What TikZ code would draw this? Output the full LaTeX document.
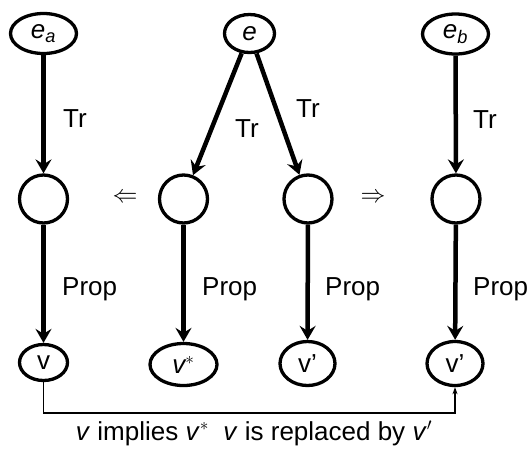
\documentclass[tikz,border=0pt]{standalone}
\usepackage{fontspec}
\setmainfont{Liberation Sans}
\usetikzlibrary{arrows.meta,shapes.geometric}
\begin{document}
\begin{tikzpicture}[x=1pt,y=-1pt,
  every node/.style={font=\fontsize{26}{31}\selectfont},
  ell/.style={draw,ellipse,line width=3.3pt,inner sep=0pt},
  circ/.style={draw,circle,line width=3.3pt,inner sep=0pt,minimum size=48pt},
  flow/.style={line width=4.5pt,-{Stealth[length=14pt,width=16pt,inset=5pt]}},
  lbl/.style={anchor=base west,inner sep=0pt},
  link/.style={line width=1.3pt,-{Stealth[length=7pt,width=5pt,inset=2pt]}}
]
\useasboundingbox (0,0) rectangle (527,453);
% top row
\node[ell,minimum width=66pt,minimum height=40pt] (ea) at (43.5,33.5) {\itshape e\textsubscript{a}};
\node[ell,minimum width=50pt,minimum height=38pt] (e) at (249.5,33.5) {\itshape e};
\node[ell,minimum width=66pt,minimum height=40pt] (eb) at (455.5,34) {\itshape e\textsubscript{b}};
% middle row
\node[circ] (c1) at (43.5,199) {};
\node[circ] (c2) at (183.5,199) {};
\node[circ] (c3) at (308,199) {};
\node[circ] (c4) at (456,199) {};
% bottom row
\node[ell,minimum width=48pt,minimum height=36pt] (v) at (43.5,362.5) {v};
\node[ell,minimum width=67pt,minimum height=42pt] (vs) at (183.5,364.5) {\itshape v$^*$};
\node[ell,minimum width=55pt,minimum height=44pt] (vp1) at (307.5,363.5) {v’};
\node[ell,minimum width=56pt,minimum height=44pt] (vp2) at (455,363.5) {v’};
% arrows
\draw[flow] (ea) -- (c1);
\draw[flow] (e) -- (c2);
\draw[flow] (e) -- (c3);
\draw[flow] (eb) -- (c4);
\draw[flow] (c1) -- (v);
\draw[flow] (c2) -- (vs);
\draw[flow] (c3) -- (vp1);
\draw[flow] (c4) -- (vp2);
% labels
\node[lbl] (t1) at (63,127) {Tr};
\node[lbl] (t2) at (235,137) {Tr};
\node[lbl] (t3) at (296,117) {Tr};
\node[lbl] (t4) at (473,128) {Tr};
\node[lbl] (p1) at (62,295) {Prop};
\node[lbl] (p2) at (202,295) {Prop};
\node[lbl] (p3) at (325,295) {Prop};
\node[lbl] (p4) at (473,295) {Prop};
\node (la) at (125,198) {$\Leftarrow$};
\node (ra) at (373,198) {$\Rightarrow$};
% bottom connector
\coordinate (k1) at (43.5,413);
\coordinate (k2) at (455,413);
\draw[link] (v.south) -- (k1) -- (k2) -- (vp2.south);
\node[anchor=base,inner sep=0pt] (txt) at (254,440) {\textit{v} implies \textit{v}$^*$\ \ \textit{v} is replaced by \textit{v}$'$};
\end{tikzpicture}
\end{document}
